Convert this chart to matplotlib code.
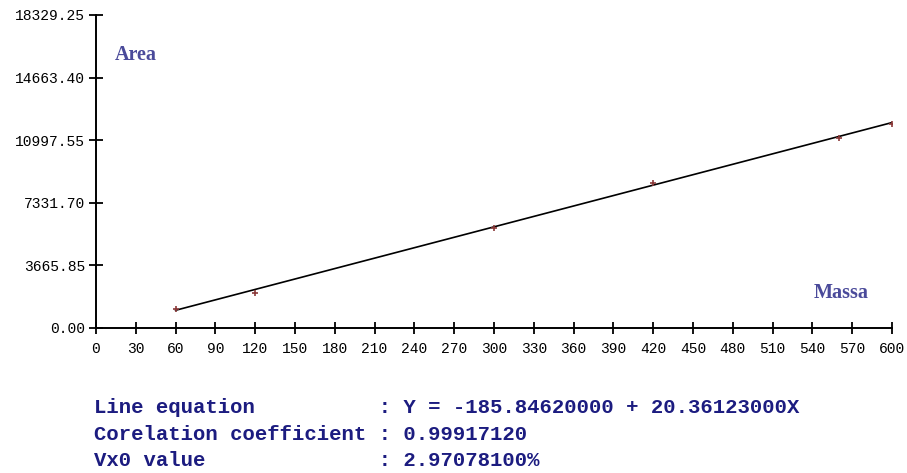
import matplotlib.pyplot as plt
import numpy as np

# calibration data
massa = [60, 120, 300, 420, 560, 600]
area = [1100, 2050, 5850, 8480, 11150, 11920]

intercept = -185.84620000
slope = 20.36123000
korelasi = 0.99917120
vx0 = 2.97078100

y_ticks = [0.00, 3665.85, 7331.70, 10997.55, 14663.40, 18329.25]
x_ticks = list(range(0, 601, 30))

fig = plt.figure(figsize=(9.07, 4.73), dpi=100)
ax = fig.add_axes([0.1058, 0.3066, 0.8777, 0.6617])

# regression line between first and last standard
xl = np.array([massa[0], massa[-1]])
ax.plot(xl, intercept + slope * xl, color='black', lw=1.2, zorder=2)
ax.plot(massa, area, linestyle='none', marker='+', ms=4, mew=1.2,
        color='#8b3a3a', zorder=3)

ax.set_xlim(0, 600)
ax.set_ylim(0, 18329.25)
ax.set_xticks(x_ticks)
ax.set_yticks(y_ticks)
ax.set_yticklabels(['%.2f' % v for v in y_ticks])
for s in ['top', 'right']:
    ax.spines[s].set_visible(False)
for s in ['left', 'bottom']:
    ax.spines[s].set_linewidth(1.4)
    ax.spines[s].set_clip_on(False)
ax.tick_params(axis='x', direction='inout', length=8, width=1.3, pad=6,
               labelsize=10.5, colors='black')
ax.tick_params(axis='y', direction='inout', length=10, width=1.3, pad=3,
               labelsize=10.5, colors='black')
for lbl in ax.get_xticklabels() + ax.get_yticklabels():
    lbl.set_family('Liberation Mono')
ax.patch.set_alpha(0)

ax.text(0.024, 0.872, 'Area', transform=ax.transAxes, family='Liberation Serif',
        fontsize=14.5, color='#4a4a9a', fontweight='bold', va='center')
ax.text(0.901, 0.112, 'Massa', transform=ax.transAxes, family='Liberation Serif',
        fontsize=14.5, color='#4a4a9a', fontweight='bold', va='center')

# summary of the regression below the plot
info = [
    'Line equation          : Y = %.8f + %.8fX' % (intercept, slope),
    'Corelation coefficient : %.8f' % korelasi,
    'Vx0 value              : %.8f%%' % vx0,
]
for t, yp in zip(info, [407, 434, 460]):
    fig.text(94 / 907, 1 - yp / 473, t, family='Liberation Mono',
             fontsize=14.9, fontweight='bold', color='#1c1c80', va='center')

fig.savefig('out.png', dpi=100, facecolor='white')
